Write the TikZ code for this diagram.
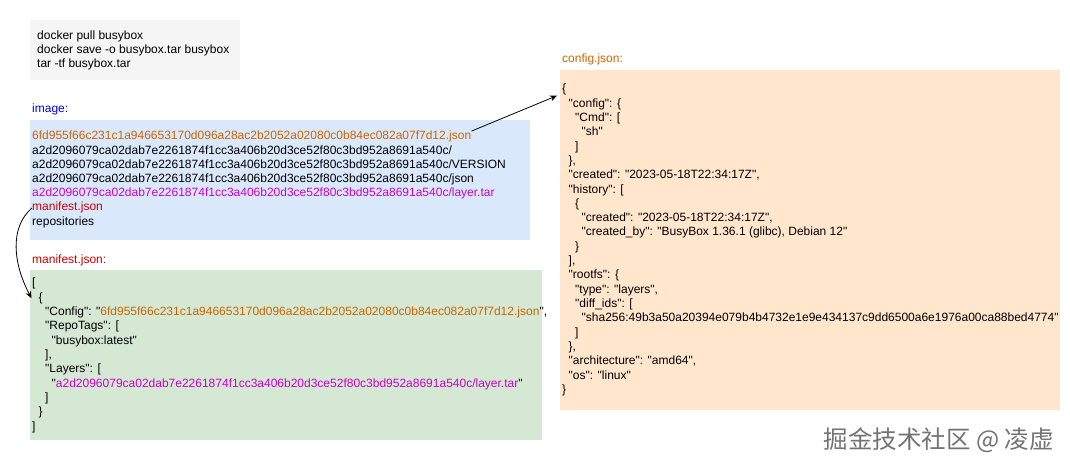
\documentclass[tikz,border=0pt]{standalone}
\usepackage{fontspec}
\setmainfont{Liberation Sans}[Ligatures=TeXOff]
\newfontfamily\cjk{Noto Sans CJK SC}
\usetikzlibrary{arrows.meta}
\definecolor{orangetxt}{HTML}{CC6600}
\definecolor{magtxt}{HTML}{CC00CC}
\definecolor{redtxt}{HTML}{CC0000}
\definecolor{bluetxt}{HTML}{0000DD}
\definecolor{cmdfill}{HTML}{F5F5F5}
\definecolor{imgfill}{HTML}{DAE8FC}
\definecolor{manfill}{HTML}{D5E8D4}
\definecolor{cfgfill}{HTML}{FFE6CC}
\begin{document}
\begin{tikzpicture}[x=1pt,y=-1pt,
  ln/.style={anchor=base west, inner sep=0pt, font=\fontsize{12}{14}\selectfont},
  box/.style={draw=none, inner sep=0pt, anchor=north west},
  link/.style={draw=black, line width=0.8pt, -{Stealth[length=7pt,width=6pt]}}]
\useasboundingbox (0,0) rectangle (1070,470);
% boxes
\node[box, fill=cmdfill, minimum width=210pt, minimum height=60pt] (cmdbox) at (30,20) {};
\node[box, fill=imgfill, minimum width=500pt, minimum height=120pt] (imgbox) at (30,120) {};
\node[box, fill=manfill, minimum width=512pt, minimum height=170pt] (manbox) at (30,270) {};
\node[box, fill=cfgfill, minimum width=500pt, minimum height=340pt] (cfgbox) at (560,70) {};
% commands
\node[ln] (cmd1) at (37,40) {docker pull busybox};
\node[ln] (cmd2) at (37,54) {docker save -o busybox.tar busybox};
\node[ln] (cmd3) at (37,68) {tar -tf busybox.tar};
% labels
\node[ln, text=bluetxt] (imglbl) at (32,113) {image:};
\node[ln, text=redtxt] (manlbl) at (32,263) {manifest.json:};
\node[ln, text=orangetxt] (cfglbl) at (562,63) {config.json:};
% image box
\node[ln, text=orangetxt] (i1) at (32,140) {6fd955f66c231c1a946653170d096a28ac2b2052a02080c0b84ec082a07f7d12.json};
\node[ln] (i2) at (32,154.2) {a2d2096079ca02dab7e2261874f1cc3a406b20d3ce52f80c3bd952a8691a540c/};
\node[ln] (i3) at (32,168.4) {a2d2096079ca02dab7e2261874f1cc3a406b20d3ce52f80c3bd952a8691a540c/VERSION};
\node[ln] (i4) at (32,182.6) {a2d2096079ca02dab7e2261874f1cc3a406b20d3ce52f80c3bd952a8691a540c/json};
\node[ln, text=magtxt] (i5) at (32,196.8) {a2d2096079ca02dab7e2261874f1cc3a406b20d3ce52f80c3bd952a8691a540c/layer.tar};
\node[ln, text=redtxt] (i6) at (32,211) {manifest.json};
\node[ln] (i7) at (32,225.2) {repositories};
% manifest box
\node[ln] (m1) at (32,287) {[};
\node[ln] (m2) at (38.5,301.3) {\{};
\node[ln] (m3) at (45,315.6) {"Config": "\textcolor{orangetxt}{6fd955f66c231c1a946653170d096a28ac2b2052a02080c0b84ec082a07f7d12.json}",};
\node[ln] (m4) at (45,329.9) {"RepoTags": [};
\node[ln] (m5) at (51.5,344.2) {"busybox:latest"};
\node[ln] (m6) at (45,358.5) {],};
\node[ln] (m7) at (45,372.8) {"Layers": [};
\node[ln] (m8) at (51.5,387.1) {"\textcolor{magtxt}{a2d2096079ca02dab7e2261874f1cc3a406b20d3ce52f80c3bd952a8691a540c/layer.tar}"};
\node[ln] (m9) at (45,401.4) {]};
\node[ln] (m10) at (38.5,415.7) {\}};
\node[ln] (m11) at (32,430) {]};
% config box
\node[ln] (c1) at (562,93) {\{};
\node[ln] (c2) at (568.5,107.3) {"config": \{};
\node[ln] (c3) at (575,121.6) {"Cmd": [};
\node[ln] (c4) at (581.5,135.9) {"sh"};
\node[ln] (c5) at (575,150.2) {]};
\node[ln] (c6) at (568.5,164.5) {\},};
\node[ln] (c7) at (568.5,178.8) {"created": "2023-05-18T22:34:17Z",};
\node[ln] (c8) at (568.5,193.1) {"history": [};
\node[ln] (c9) at (575,207.4) {\{};
\node[ln] (c10) at (581.5,221.7) {"created": "2023-05-18T22:34:17Z",};
\node[ln] (c11) at (581.5,236) {"created\_by": "BusyBox 1.36.1 (glibc), Debian 12"};
\node[ln] (c12) at (575,250.3) {\}};
\node[ln] (c13) at (568.5,264.6) {],};
\node[ln] (c14) at (568.5,278.9) {"rootfs": \{};
\node[ln] (c15) at (575,293.2) {"type": "layers",};
\node[ln] (c16) at (575,307.5) {"diff\_ids": [};
\node[ln] (c17) at (581.5,321.8) {"sha256:49b3a50a20394e079b4b4732e1e9e434137c9dd6500a6e1976a00ca88bed4774"};
\node[ln] (c18) at (575,336.1) {]};
\node[ln] (c19) at (568.5,350.4) {\},};
\node[ln] (c20) at (568.5,364.7) {"architecture": "amd64",};
\node[ln] (c21) at (568.5,379) {"os": "linux"};
\node[ln] (c22) at (562,393.3) {\}};
% watermark
\node[anchor=east, inner sep=0pt, text=black!55, font=\cjk\fontsize{24.5}{24.5}\selectfont] (wm) at (1054,440) {掘金技术社区 @ 凌虚};
% connectors
\draw[link] (i1.north east) -- ([xshift=-5pt]c1.south west);
\draw[link] (i6.west) .. controls +(-23,20) and +(-18,-34) .. ([xshift=-7pt]m2.west);
\end{tikzpicture}
\end{document}
